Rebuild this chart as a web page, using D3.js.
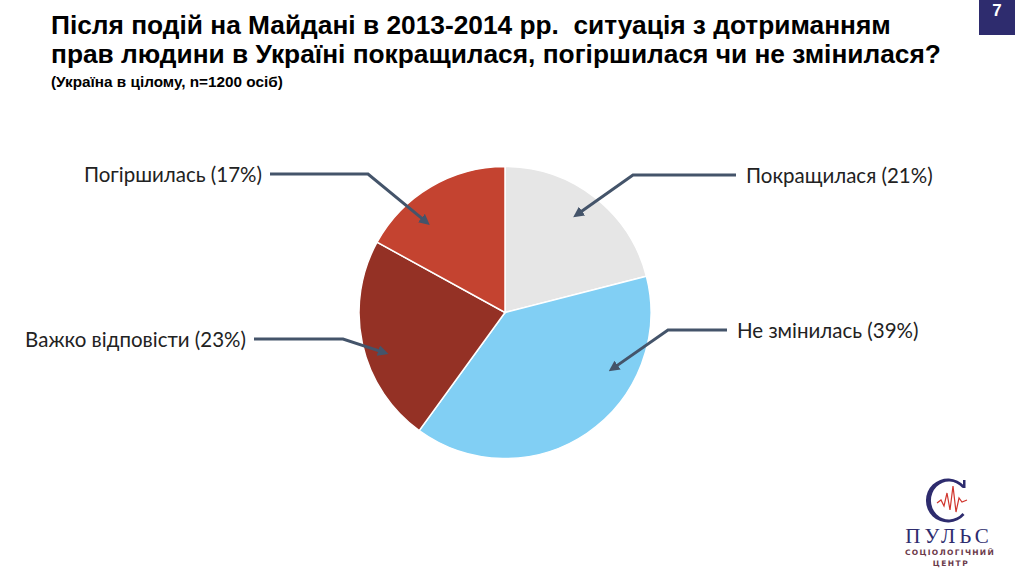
<!DOCTYPE html>
<html>
<head>
<meta charset="utf-8">
<script src="https://cdn.jsdelivr.net/npm/d3@7"></script>
<style>
  html, body { margin: 0; padding: 0; background: #fff; }
  svg { display: block; }
</style>
</head>
<body>
<div id="chart"></div>
<script>
// Data
const categories = ["Покращилася", "Не змінилась", "Важко відповісти", "Погіршилась"];
const values = [21, 39, 23, 17];
const colors = ["#e6e6e6", "#81cff4", "#943125", "#c44330"];

const titleLines = [
    "Після подій на Майдані в 2013-2014 рр.  ситуація з дотриманням",
    "прав людини в Україні покращилася, погіршилася чи не змінилася?"
];
const subtitle = "(Україна в цілому, n=1200 осіб)";
const pageNumber = "7";

// Label layout: text anchor, elbow of leader line, where the arrow hits the slice
const labelLayout = [
    { side: "right", x: 746, y: 176, elbow: 633, t: 0.48, r: 0.83 },
    { side: "right", x: 737, y: 331, elbow: 668, t: 0.30, r: 0.83 },
    { side: "left",  x: 246, y: 340, elbow: 343, t: 0.43, r: 0.87 },
    { side: "left",  x: 262, y: 175, elbow: 368, t: 0.33, r: 0.82 }
];

const width = 1024, height = 568;
const cx = 505, cy = 312.5, radius = 146;

const svg = d3.select("#chart").append("svg")
    .attr("width", width)
    .attr("height", height);

// Title
svg.selectAll(".title-line")
    .data(titleLines)
    .enter()
    .append("text")
    .attr("class", "title-line")
    .attr("x", 51)
    .attr("y", (d, i) => 34 + i * 29)
    .attr("font-family", "'Liberation Sans', Arial, sans-serif")
    .attr("font-weight", "bold")
    .attr("font-size", 26.3)
    .attr("fill", "#000")
    .style("white-space", "pre")
    .text(d => d);

svg.append("text")
    .attr("x", 51)
    .attr("y", 87)
    .attr("font-family", "'Liberation Sans', Arial, sans-serif")
    .attr("font-weight", "bold")
    .attr("font-size", 15.3)
    .attr("fill", "#000")
    .text(subtitle);

// Page number box
svg.append("rect")
    .attr("x", 979)
    .attr("y", 0)
    .attr("width", 36)
    .attr("height", 35)
    .attr("fill", "#2e2c6e");

svg.append("text")
    .attr("x", 997)
    .attr("y", 16)
    .attr("text-anchor", "middle")
    .attr("font-family", "'Liberation Sans', Arial, sans-serif")
    .attr("font-weight", "bold")
    .attr("font-size", 17)
    .attr("fill", "#fff")
    .text(pageNumber);

// Pie
const data = categories.map((c, i) => ({ name: c, value: values[i], color: colors[i], layout: labelLayout[i] }));

const pie = d3.pie()
    .value(d => d.value)
    .sort(null);

const arc = d3.arc()
    .innerRadius(0)
    .outerRadius(radius);

const arcs = pie(data);

const g = svg.append("g")
    .attr("transform", `translate(${cx},${cy})`);

g.selectAll(".slice")
    .data(arcs)
    .enter()
    .append("path")
    .attr("class", "slice")
    .attr("d", arc)
    .attr("fill", d => d.data.color)
    .attr("stroke", "#fff")
    .attr("stroke-width", 1.5);

// Arrow marker
const defs = svg.append("defs");
defs.append("marker")
    .attr("id", "arrow")
    .attr("viewBox", "0 0 10 10")
    .attr("refX", 6)
    .attr("refY", 5)
    .attr("markerWidth", 3.6)
    .attr("markerHeight", 3.6)
    .attr("orient", "auto")
    .append("path")
    .attr("d", "M0,0 L10,5 L0,10 Z")
    .attr("fill", "#44546a");

// Leader lines and labels
const lineGen = d3.line();

arcs.forEach(d => {
    const L = d.data.layout;
    const a = d.startAngle + L.t * (d.endAngle - d.startAngle);
    const tip = [cx + Math.sin(a) * radius * L.r, cy - Math.cos(a) * radius * L.r];
    const startX = L.side === "right" ? L.x - 10 : L.x + 8;
    const lineY = L.y - 1;
    svg.append("path")
        .attr("d", lineGen([[startX, lineY], [L.elbow, lineY], tip]))
        .attr("fill", "none")
        .attr("stroke", "#44546a")
        .attr("stroke-width", 3)
        .attr("marker-end", "url(#arrow)");

    svg.append("text")
        .attr("x", L.x)
        .attr("y", L.y)
        .attr("dy", "0.35em")
        .attr("text-anchor", L.side === "right" ? "start" : "end")
        .attr("font-family", "Lato, 'Open Sans', sans-serif")
        .attr("font-size", 20.5)
        .attr("fill", "#222")
        .text(`${d.data.name} (${d.data.value}%)`);
});

// Logo: serif "C" mark with a pulse line
const logo = svg.append("g").attr("class", "logo");

const logoC = logo.append("g").attr("transform", "translate(948.5,500)");
logoC.append("path")
    .attr("d", "M16,-14 A22,22 0 1 0 16,15 L14,13 A18,19 0 1 1 14,-12 Z")
    .attr("fill", "#2e2c6e");
logoC.append("path")
    .attr("d", "M-18,-10 A20,22 0 0 0 -18,10 A24,22 0 0 1 -18,-10 Z")
    .attr("fill", "#2e2c6e");
logoC.append("rect")
    .attr("x", 14.5)
    .attr("y", -20)
    .attr("width", 2.5)
    .attr("height", 8)
    .attr("fill", "#2e2c6e");

logo.append("path")
    .attr("d", "M937,503 L941,500 L944,506 L947,493 L950,510 L953,486 L956,512 L959,498 L962,502 L967,500")
    .attr("fill", "none")
    .attr("stroke", "#d0342c")
    .attr("stroke-width", 1.2);

logo.append("text")
    .attr("x", 949)
    .attr("y", 543)
    .attr("text-anchor", "middle")
    .attr("font-family", "'Liberation Serif', 'DejaVu Serif', serif")
    .attr("font-size", 21)
    .attr("letter-spacing", 4)
    .attr("fill", "#2e2c6e")
    .text("ПУЛЬС");

logo.append("text")
    .attr("x", 950)
    .attr("y", 555)
    .attr("text-anchor", "middle")
    .attr("font-family", "'DejaVu Sans', sans-serif")
    .attr("font-size", 7.5)
    .attr("font-weight", "bold")
    .attr("letter-spacing", 1.3)
    .attr("fill", "#6b3a4a")
    .text("СОЦІОЛОГІЧНИЙ");

logo.append("text")
    .attr("x", 951)
    .attr("y", 566)
    .attr("text-anchor", "middle")
    .attr("font-family", "'DejaVu Sans', sans-serif")
    .attr("font-size", 7.5)
    .attr("font-weight", "bold")
    .attr("letter-spacing", 1.5)
    .attr("fill", "#6b3a4a")
    .text("ЦЕНТР");
</script>
</body>
</html>
